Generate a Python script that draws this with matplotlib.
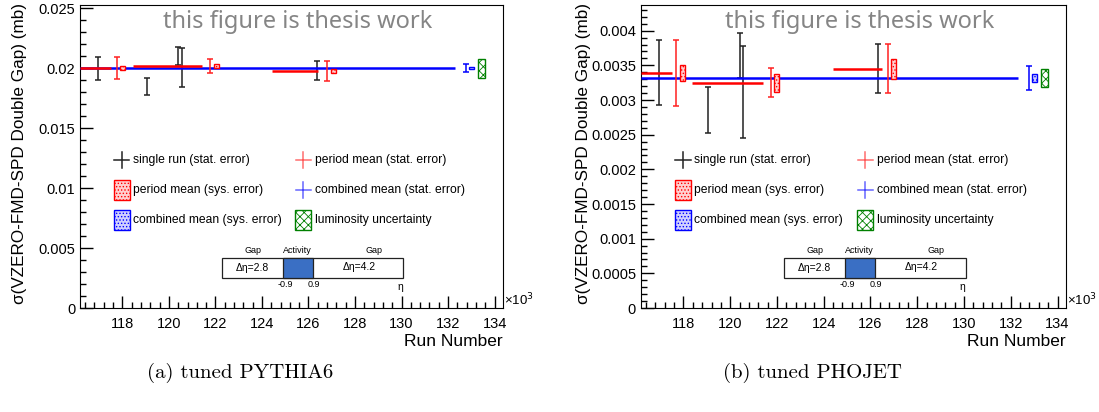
import numpy as np
import matplotlib
matplotlib.use("Agg")
import matplotlib.pyplot as plt
from matplotlib.patches import Rectangle
from matplotlib.ticker import MultipleLocator, FuncFormatter

plt.rcParams['font.family'] = ['Liberation Sans', 'DejaVu Sans']
plt.rcParams['hatch.linewidth'] = 0.6

# run numbers are in units of 10^3
# --- tuned PYTHIA6 ---
py_runs = [116.97, 119.08, 120.40, 120.58, 126.37]
py_vals = [0.01995, 0.01846, 0.02100, 0.02005, 0.01980]
py_errs = [0.00095, 0.00071, 0.00075, 0.00163, 0.00080]
py_period_lo = [116.2, 118.47, 124.44]
py_period_hi = [117.5, 121.44, 126.41]
py_period_val = [0.02000, 0.02017, 0.01975]
py_period_x = [117.75, 121.78, 126.80]
py_period_stat = [0.00095, 0.00055, 0.00080]
py_period_sys = [0.00020, 0.00020, 0.00020]
py_comb = 0.02000
py_comb_stat = 0.00035
py_comb_sys = 0.00012
py_lumi = 0.00079

# --- tuned PHOJET ---
ph_runs = [116.97, 119.03, 120.41, 120.54, 126.30]
ph_vals = [0.00340, 0.00286, 0.00364, 0.003115, 0.003455]
ph_errs = [0.00047, 0.00033, 0.00032, 0.000665, 0.000355]
ph_period_lo = [116.2, 118.35, 124.41]
ph_period_hi = [117.5, 121.39, 126.48]
ph_period_val = [0.00339, 0.00325, 0.00345]
ph_period_x = [117.70, 121.73, 126.73]
ph_period_stat = [0.00047, 0.00021, 0.000355]
ph_period_sys = [0.00012, 0.00013, 0.00014]
ph_comb = 0.00332
ph_comb_stat = 0.00017
ph_comb_sys = 0.00006
ph_lumi = 0.00013

comb_lo, comb_hi = 116.2, 132.3
comb_x = 132.77
lumi_x = 133.45
xlim = (116.18, 134.36)


def fmt(v, pos):
    return '%g' % v


def sys_box(ax, x, y, dy, w, color, face, hatch):
    ax.add_patch(Rectangle((x - w / 2, y - dy), w, 2 * dy, facecolor=face,
                           edgecolor=color, hatch=hatch, lw=1.0, zorder=4))


def panel(ax, runs, vals, errs, plo, phi, pval, px, pstat, psys,
          comb, cstat, csys, lumi, ylim, major, minor):
    ax.set_xlim(*xlim)
    ax.set_ylim(*ylim)
    ax.errorbar(runs, vals, yerr=errs, fmt='none', ecolor='#222222',
                elinewidth=1.1, capsize=2.5, capthick=1.1, zorder=3)
    ax.hlines(comb, comb_lo, comb_hi, color='#0000ff', lw=1.8, zorder=3)
    ax.hlines(pval, plo, phi, color='#ff0000', lw=1.8, zorder=3)
    ax.errorbar(px, pval, yerr=pstat, fmt='none', ecolor='#ff2020',
                elinewidth=1.1, capsize=2.5, capthick=1.1, zorder=3)
    for x, v, s in zip(px, pval, psys):
        sys_box(ax, x + 0.26, v, s, 0.22, '#ff0000', '#ffd0d0', '.....')
    ax.errorbar([comb_x], [comb], yerr=[cstat], fmt='none', ecolor='#0000ff',
                elinewidth=1.1, capsize=2.5, capthick=1.1, zorder=3)
    sys_box(ax, comb_x + 0.24, comb, csys, 0.2, '#0000ff', '#d0d0ff', '.....')
    sys_box(ax, lumi_x, comb, lumi, 0.3, '#008000', 'white', 'xxxx')

    ax.yaxis.set_major_locator(MultipleLocator(major))
    ax.yaxis.set_minor_locator(MultipleLocator(minor))
    ax.xaxis.set_major_locator(MultipleLocator(2))
    ax.xaxis.set_minor_locator(MultipleLocator(0.4))
    ax.yaxis.set_major_formatter(FuncFormatter(fmt))
    ax.xaxis.set_major_formatter(FuncFormatter(fmt))
    ax.tick_params(which='both', direction='in', top=False, right=False,
                   labelsize=10.5)
    ax.tick_params(which='major', length=9, width=1)
    ax.tick_params(which='minor', length=4.5, width=1)
    ax.tick_params(axis='x', pad=6.5)

    ax.text(0.515, 0.944, 'this figure is thesis work', transform=ax.transAxes,
            ha='center', va='center', fontsize=17, color='#858585',
            family='Noto Sans')

    # legend drawn by hand
    tr = ax.transAxes
    rows = [0.488, 0.389, 0.290]
    cols = [0.099, 0.528]
    cw, ch = 0.018, 0.027
    bw, bh = 0.019, 0.034

    def cross(x, y, c, a=1.0):
        ax.plot([x - cw, x + cw], [y, y], color=c, lw=1.1, alpha=a,
                transform=tr, clip_on=False)
        ax.plot([x, x], [y - ch, y + ch], color=c, lw=1.1, alpha=a,
                transform=tr, clip_on=False)

    def box(x, y, c, face, hatch):
        ax.add_patch(Rectangle((x - bw, y - bh), 2 * bw, 2 * bh, transform=tr,
                               facecolor=face, edgecolor=c, hatch=hatch, lw=1.0))

    cross(cols[0], rows[0], '#222222')
    cross(cols[1], rows[0], '#ff3030', 0.7)
    box(cols[0], rows[1], '#ff0000', '#ffd0d0', '.....')
    cross(cols[1], rows[1], '#0000ff', 0.6)
    box(cols[0], rows[2], '#0000ff', '#d0d0ff', '.....')
    box(cols[1], rows[2], '#008000', 'white', 'xxxx')
    labels = [['single run (stat. error)', 'period mean (stat. error)'],
              ['period mean (sys. error)', 'combined mean (stat. error)'],
              ['combined mean (sys. error)', 'luminosity uncertainty']]
    for r, row in zip(rows, labels):
        for c, lab in zip(cols, row):
            ax.text(c + 0.027, r, lab, transform=tr, ha='left', va='center',
                    fontsize=8.7)

    # eta acceptance sketch
    ax.add_patch(Rectangle((0.336, 0.099), 0.428, 0.066, transform=tr,
                           facecolor='white', edgecolor='#222222', lw=0.9))
    ax.add_patch(Rectangle((0.480, 0.099), 0.071, 0.066, transform=tr,
                           facecolor='#3a6fc4', edgecolor='#222222', lw=0.9))
    sm = 6.5
    ax.text(0.410, 0.190, 'Gap', transform=tr, ha='center', va='center', fontsize=sm)
    ax.text(0.515, 0.190, 'Activity', transform=tr, ha='center', va='center', fontsize=sm)
    ax.text(0.695, 0.190, 'Gap', transform=tr, ha='center', va='center', fontsize=sm)
    ax.text(0.408, 0.132, '\u0394\u03b7=2.8', transform=tr, ha='center', va='center', fontsize=7.5)
    ax.text(0.660, 0.137, '\u0394\u03b7=4.2', transform=tr, ha='center', va='center', fontsize=7.5)
    ax.text(0.485, 0.076, '-0.9', transform=tr, ha='center', va='center', fontsize=sm)
    ax.text(0.553, 0.076, '0.9', transform=tr, ha='center', va='center', fontsize=sm)
    ax.text(0.757, 0.070, '\u03b7', transform=tr, ha='center', va='center', fontsize=7.5)


fig = plt.figure(figsize=(10.99, 4.12), dpi=100)
ax1 = fig.add_axes([0.0728, 0.2524, 0.3849, 0.7354])
ax2 = fig.add_axes([0.5832, 0.2524, 0.3867, 0.7354])

panel(ax1, py_runs, py_vals, py_errs, py_period_lo, py_period_hi, py_period_val,
      py_period_x, py_period_stat, py_period_sys, py_comb, py_comb_stat,
      py_comb_sys, py_lumi, (0, 0.02525), 0.005, 0.001)
panel(ax2, ph_runs, ph_vals, ph_errs, ph_period_lo, ph_period_hi, ph_period_val,
      ph_period_x, ph_period_stat, ph_period_sys, ph_comb, ph_comb_stat,
      ph_comb_sys, ph_lumi, (0, 0.00437), 0.0005, 0.0001)

ylab = '\u03c3(VZERO-FMD-SPD Double Gap) (mb)'
fig.text(0.018, 0.628, ylab, rotation=90, ha='center', va='center', fontsize=12.3)
fig.text(0.531, 0.628, ylab, rotation=90, ha='center', va='center', fontsize=12.3)
for ax in (ax1, ax2):
    p = ax.get_position()
    fig.text(p.x1, 1 - 341 / 412, 'Run Number', ha='right', va='center', fontsize=12.5)
    fig.text(p.x1 + 0.001, 1 - 300 / 412, '\u00d710$^3$', ha='left', va='center', fontsize=9.5)

fig.text(240 / 1099, 1 - 373 / 412, '(a) tuned PYTHIA6', ha='center', va='center',
         fontsize=15, family='cmr10')
fig.text(812 / 1099, 1 - 373 / 412, '(b) tuned PHOJET', ha='center', va='center',
         fontsize=15, family='cmr10')

fig.savefig('out.png', dpi=100)
